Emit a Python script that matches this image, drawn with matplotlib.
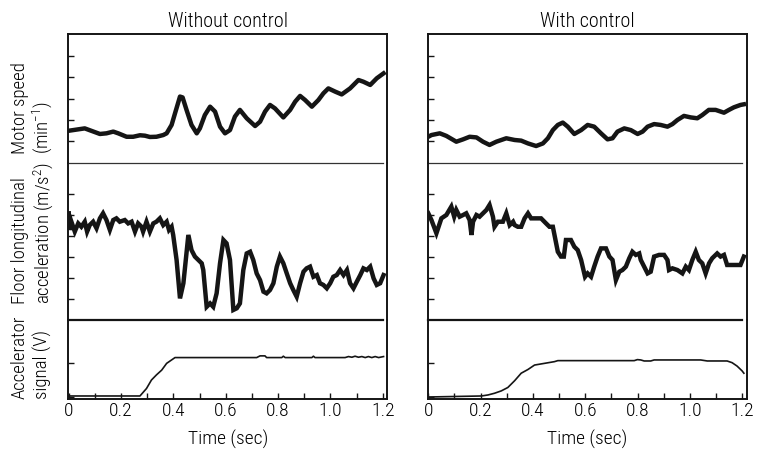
import matplotlib
matplotlib.use("Agg")
import matplotlib.pyplot as plt
from matplotlib import font_manager as fm

# narrow sans faces, first one installed wins
narrow_fonts = ["Roboto Condensed", "Liberation Sans Narrow", "Archivo Narrow",
                "PT Sans Narrow", "Fira Sans Condensed", "IBM Plex Sans Condensed"]
installed = {f.name for f in fm.fontManager.ttflist}
face = next((n for n in narrow_fonts if n in installed), "DejaVu Sans")
plt.rcParams['font.family'] = [face, 'DejaVu Sans']
plt.rcParams['font.weight'] = 'light'
plt.rcParams['axes.titleweight'] = 'light'
plt.rcParams['axes.labelweight'] = 'light'
plt.rcParams['mathtext.fontset'] = 'custom'
plt.rcParams['mathtext.rm'] = face + ':light'
plt.rcParams['mathtext.it'] = face + ':light'

# column titles and axis labels
titles = ["Without control", "With control"]
xtick_values = [0, 0.2, 0.4, 0.6, 0.8, 1.0, 1.2]
xtick_labels = ["0", "0.2", "0.4", "0.6", "0.8", "1.0", "1.2"]
ylabels = [("Motor speed", "(min$^{-1}$)"),
           ("Floor longitudinal", "acceleration (m/s$^{2}$)"),
           ("Accelerator", "signal (V)")]

# motor speed, without control (time in s, value in tick units)
speed_off_t = [0.0, 0.061, 0.119, 0.144, 0.170, 0.189, 0.221, 0.246, 0.272, 0.291,
               0.310, 0.335, 0.361, 0.374, 0.393, 0.406, 0.425, 0.435, 0.450, 0.469,
               0.489, 0.501, 0.520, 0.540, 0.559, 0.578, 0.597, 0.616, 0.635, 0.654,
               0.680, 0.712, 0.731, 0.750, 0.769, 0.788, 0.820, 0.846, 0.865, 0.884,
               0.903, 0.929, 0.954, 0.973, 0.992, 1.018, 1.043, 1.075, 1.107, 1.126,
               1.152, 1.177, 1.203]
speed_off_v = [1.50, 1.61, 1.35, 1.38, 1.46, 1.38, 1.22, 1.22, 1.29, 1.27,
               1.21, 1.22, 1.30, 1.38, 1.77, 2.31, 3.09, 3.05, 2.47, 1.77,
               1.38, 1.61, 2.23, 2.62, 2.39, 1.69, 1.38, 1.53, 2.16, 2.47,
               2.08, 1.72, 1.92, 2.39, 2.70, 2.54, 2.12, 2.47, 2.85, 3.12,
               2.93, 2.62, 2.93, 3.24, 3.47, 3.32, 3.19, 3.47, 3.86, 3.78,
               3.63, 3.94, 4.17]

# motor speed, with control
speed_on_t = [0.0, 0.012, 0.044, 0.069, 0.107, 0.133, 0.158, 0.184, 0.209, 0.234,
              0.260, 0.298, 0.330, 0.355, 0.381, 0.412, 0.438, 0.457, 0.476, 0.495,
              0.514, 0.533, 0.558, 0.584, 0.609, 0.634, 0.660, 0.685, 0.704, 0.723,
              0.749, 0.774, 0.800, 0.819, 0.838, 0.863, 0.888, 0.914, 0.933, 0.952,
              0.977, 1.003, 1.028, 1.047, 1.072, 1.098, 1.130, 1.149, 1.168, 1.193,
              1.206]
speed_on_v = [1.22, 1.30, 1.38, 1.26, 0.99, 1.10, 1.22, 1.19, 0.99, 0.84,
              0.99, 1.15, 1.07, 1.04, 0.91, 0.79, 0.91, 1.15, 1.53, 1.77,
              1.88, 1.69, 1.35, 1.53, 1.77, 1.69, 1.38, 1.10, 1.15, 1.46,
              1.61, 1.53, 1.35, 1.46, 1.69, 1.81, 1.77, 1.69, 1.81, 2.00,
              2.19, 2.12, 2.08, 2.23, 2.47, 2.47, 2.34, 2.47, 2.59, 2.70,
              2.73]

# floor longitudinal acceleration, without control
accel_off_t = [0.0, 0.003, 0.010, 0.023, 0.036, 0.048, 0.061, 0.070, 0.080, 0.093,
               0.106, 0.119, 0.131, 0.144, 0.157, 0.170, 0.182, 0.195, 0.214, 0.227,
               0.240, 0.253, 0.265, 0.278, 0.284, 0.297, 0.310, 0.323, 0.335, 0.348,
               0.361, 0.374, 0.383, 0.393, 0.399, 0.412, 0.425, 0.438, 0.457, 0.469,
               0.482, 0.495, 0.508, 0.514, 0.527, 0.540, 0.552, 0.565, 0.578, 0.591,
               0.603, 0.616, 0.629, 0.642, 0.654, 0.667, 0.680, 0.693, 0.705, 0.718,
               0.731, 0.744, 0.756, 0.769, 0.782, 0.795, 0.807, 0.820, 0.833, 0.846,
               0.858, 0.871, 0.884, 0.897, 0.909, 0.922, 0.935, 0.948, 0.960, 0.973,
               0.986, 0.999, 1.011, 1.024, 1.037, 1.050, 1.063, 1.075, 1.088, 1.101,
               1.114, 1.126, 1.139, 1.152, 1.165, 1.177, 1.190, 1.203]
accel_off_v = [5.08, 4.29, 4.68, 4.21, 4.60, 4.44, 4.68, 4.21, 4.52, 4.68,
               4.37, 4.84, 5.08, 4.76, 4.29, 4.76, 4.84, 4.68, 4.76, 4.60,
               4.68, 4.21, 4.60, 4.44, 4.21, 4.68, 4.21, 4.60, 4.68, 4.84,
               4.52, 4.68, 4.29, 4.44, 4.05, 2.86, 1.03, 1.75, 4.05, 3.33,
               3.02, 2.86, 2.70, 2.38, 0.63, 0.79, 0.63, 1.27, 2.70, 3.81,
               3.65, 2.86, 0.48, 0.56, 0.79, 2.38, 3.17, 3.25, 2.86, 2.22,
               1.90, 1.35, 1.27, 1.43, 1.75, 2.54, 3.02, 2.70, 2.22, 1.75,
               1.43, 1.11, 1.75, 2.30, 2.46, 2.54, 2.06, 2.14, 1.75, 1.67,
               1.51, 1.75, 2.06, 2.14, 2.38, 2.14, 2.38, 1.75, 1.51, 1.83,
               2.14, 2.46, 2.38, 2.54, 1.98, 1.67, 1.75, 2.14]

# floor longitudinal acceleration, with control
accel_on_t = [0.0, 0.012, 0.031, 0.050, 0.069, 0.088, 0.099, 0.107, 0.120, 0.133,
              0.145, 0.158, 0.165, 0.171, 0.184, 0.196, 0.209, 0.222, 0.234, 0.247,
              0.253, 0.266, 0.285, 0.298, 0.311, 0.324, 0.330, 0.342, 0.355, 0.368,
              0.381, 0.393, 0.431, 0.450, 0.463, 0.476, 0.495, 0.507, 0.518, 0.526,
              0.545, 0.558, 0.571, 0.584, 0.599, 0.609, 0.622, 0.634, 0.647, 0.660,
              0.679, 0.692, 0.704, 0.717, 0.730, 0.742, 0.755, 0.768, 0.780, 0.793,
              0.806, 0.812, 0.825, 0.838, 0.850, 0.863, 0.882, 0.901, 0.914, 0.920,
              0.933, 0.952, 0.971, 0.984, 0.996, 1.009, 1.022, 1.034, 1.047, 1.060,
              1.073, 1.085, 1.104, 1.117, 1.130, 1.142, 1.161, 1.193, 1.206]
accel_on_v = [5.08, 4.76, 4.13, 4.84, 5.00, 5.40, 4.92, 5.24, 4.92, 5.00,
              5.08, 4.76, 4.05, 4.68, 5.00, 4.92, 5.08, 5.24, 5.48, 4.92,
              4.44, 4.68, 4.68, 5.08, 4.52, 4.68, 4.52, 4.44, 4.44, 4.84,
              5.08, 4.84, 4.84, 4.60, 4.44, 4.44, 3.25, 3.02, 3.02, 3.81,
              3.81, 3.49, 3.33, 2.86, 2.06, 2.22, 2.06, 2.54, 3.02, 3.41,
              3.41, 3.02, 2.86, 1.90, 2.30, 2.38, 2.54, 2.94, 3.25, 3.10,
              3.17, 2.86, 2.54, 2.22, 2.30, 3.02, 3.10, 3.10, 2.86, 2.38,
              2.46, 2.38, 2.22, 2.54, 2.38, 2.86, 3.25, 2.86, 2.70, 2.22,
              2.70, 2.94, 3.17, 3.02, 3.10, 2.62, 2.62, 2.62, 3.02]

# accelerator signal
pedal_off_t = [0.0, 0.272, 0.297, 0.316, 0.335, 0.355, 0.374, 0.406, 0.718, 0.731,
               0.750, 0.756, 0.814, 0.820, 0.827, 0.929, 0.935, 0.941, 1.056, 1.069,
               1.082, 1.094, 1.107, 1.120, 1.133, 1.145, 1.158, 1.171, 1.184, 1.203]
pedal_off_v = [0.03, 0.03, 0.25, 0.50, 0.65, 0.79, 0.99, 1.16, 1.16, 1.21,
               1.21, 1.16, 1.16, 1.20, 1.16, 1.16, 1.20, 1.16, 1.16, 1.19,
               1.17, 1.20, 1.17, 1.19, 1.16, 1.19, 1.16, 1.19, 1.16, 1.19]

pedal_on_t = [0.0, 0.203, 0.228, 0.253, 0.279, 0.304, 0.330, 0.355, 0.381, 0.406,
              0.444, 0.482, 0.495, 0.787, 0.799, 0.812, 0.825, 0.850, 0.863, 1.041,
              1.066, 1.142, 1.161, 1.180, 1.199, 1.206]
pedal_on_v = [0.0, 0.03, 0.06, 0.11, 0.18, 0.28, 0.48, 0.70, 0.81, 0.94,
              0.99, 1.04, 1.07, 1.07, 1.10, 1.09, 1.06, 1.06, 1.09, 1.09,
              1.06, 1.06, 1.01, 0.91, 0.77, 0.70]

speed = [(speed_off_t, speed_off_v), (speed_on_t, speed_on_v)]
accel = [(accel_off_t, accel_off_v), (accel_on_t, accel_on_v)]
pedal = [(pedal_off_t, pedal_off_v), (pedal_on_t, pedal_on_v)]

#%%
ink = "#151515"
fs = 14
fig = plt.figure(figsize=(7.58, 4.59), dpi=100)

col_left = [0.0897, 0.564]
col_width = 0.4215
# (bottom, height) of the three stacked panels
rows = [(0.6449, 0.2810), (0.3028, 0.3421), (0.1307, 0.1721)]
ylims = [(0, 6.0), (0, 7.476), (-0.059, 2.265)]
yticks = [[1, 2, 3, 4, 5], [1, 2, 3, 4, 5, 6], [0, 1]]

for c in range(2):
    axes = []
    for r in range(3):
        ax = fig.add_axes([col_left[c], rows[r][0], col_width, rows[r][1]])
        ax.set_xlim(-0.003, 1.218)
        ax.set_ylim(*ylims[r])
        ax.set_yticks(yticks[r])
        ax.set_yticklabels([])
        ax.tick_params(axis="y", direction="in", length=4, width=1, color=ink)
        for s in ax.spines.values():
            s.set_linewidth(1.4)
            s.set_color(ink)
        if r > 0:
            ax.spines["top"].set_visible(False)
        if r < 2:
            ax.spines["bottom"].set_visible(False)
            ax.set_xticks([])
        axes.append(ax)

    ax_s, ax_a, ax_p = axes
    ax_s.plot(*speed[c], color=ink, lw=3.2, solid_joinstyle="round")
    ax_a.plot(*accel[c], color=ink, lw=3.2, solid_joinstyle="miter")
    ax_p.plot(*pedal[c], color=ink, lw=1.2)

    # separators between panels stop at 1.2 s
    ax_a.plot([0, 1.2], [ylims[1][1]] * 2, color="#333333", lw=0.9, clip_on=False)
    ax_p.plot([0, 1.2], [ylims[2][1]] * 2, color=ink, lw=1.6, clip_on=False)

    ax_s.set_title(titles[c], fontsize=fs + 0.5, pad=5)

    ax_p.set_xticks(xtick_values)
    ax_p.set_xticklabels(xtick_labels, fontsize=fs)
    ax_p.set_xticks([0.1, 0.3, 0.5, 0.7, 0.9, 1.1], minor=True)
    ax_p.tick_params(axis="x", which="both", direction="in", length=4, width=1,
                     pad=2, color=ink)
    ax_p.set_xlabel("Time (sec)", fontsize=fs, labelpad=7)

# y labels, two lines each, start-aligned at the bottom
label_bottoms = [1 - 154 / 459, 1 - 304 / 459, 1 - 399 / 459]
for (line1, line2), yb in zip(ylabels, label_bottoms):
    fig.text(0.026, yb, line1, rotation=90, ha="center", va="bottom", fontsize=13.5)
    fig.text(0.0565, yb, line2, rotation=90, ha="center", va="bottom", fontsize=13.5)

fig.savefig("out.png", dpi=100)
